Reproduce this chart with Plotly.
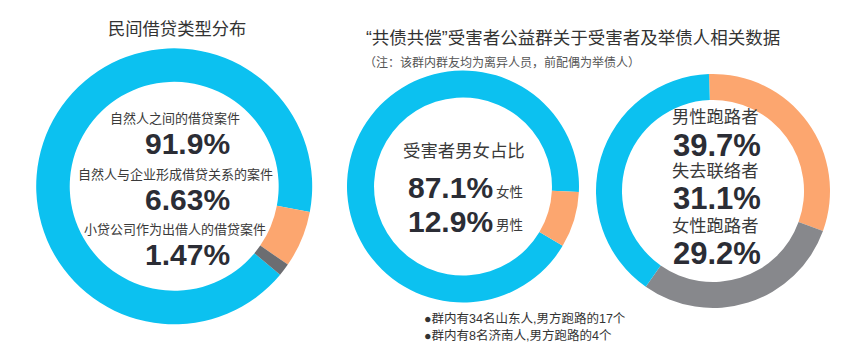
import plotly.graph_objects as go

W, H = 849, 362

# ---------------- data ----------------
loan_types = ["自然人之间的借贷案件", "自然人与企业形成借贷关系的案件", "小贷公司作为出借人的借贷案件"]
loan_pct = [91.9, 6.63, 1.47]
loan_labels = ["91.9%", "6.63%", "1.47%"]

gender_types = ["女性", "男性"]
gender_labels = ["87.1%", "12.9%"]
# ring shares as actually drawn in the picture (orange arc spans ~28 degrees)
gender_ring = [92.2, 7.8]

status_types = ["男性跑路者", "失去联络者", "女性跑路者"]
status_labels = ["39.7%", "31.1%", "29.2%"]
# ring order clockwise from 12 o'clock: 失去联络者 (orange), 女性跑路者 (gray), 男性跑路者 (blue)
ring3_types = ["失去联络者", "女性跑路者", "男性跑路者"]
ring3_pct = [31.1, 29.2, 39.7]

notes = ["●群内有34名山东人,男方跑路的17个", "●群内有8名济南人,男方跑路的4个"]

# ---------------- styles ----------------
BLUE = "#0cc1f0"
ORANGE = "#fca66f"
GRAY1 = "#6c6d71"
GRAY3 = "#87888c"
TXT = "#3a3a3a"
NUM = "#2b2d35"
CJK = "Liberation Sans, Noto Sans CJK SC, sans-serif"
CJK2 = "Noto Sans CJK SC, Liberation Sans, sans-serif"
NUMF = "Liberation Sans, Arial, sans-serif"


def dom(cx, cy, r):
    return dict(x=[(cx - r) / W, (cx + r) / W], y=[1 - (cy + r) / H, 1 - (cy - r) / H])


fig = go.Figure()

fig.add_trace(go.Pie(
    labels=loan_types, values=loan_pct, hole=0.757, sort=False, direction="clockwise",
    rotation=100.7 - 360 * loan_pct[0] / sum(loan_pct),
    marker=dict(colors=[BLUE, ORANGE, GRAY1], line=dict(width=0)),
    textinfo="none", showlegend=False, domain=dom(166.2, 178.3, 138)))

fig.add_trace(go.Pie(
    labels=gender_types, values=gender_ring, hole=0.767, sort=False, direction="clockwise",
    rotation=92.7 - 360 * gender_ring[0] / sum(gender_ring),
    marker=dict(colors=[BLUE, ORANGE], line=dict(width=0)),
    textinfo="none", showlegend=False, domain=dom(455, 178.5, 116)))

fig.add_trace(go.Pie(
    labels=ring3_types, values=ring3_pct, hole=0.778, sort=False, direction="clockwise",
    rotation=-2,
    marker=dict(colors=[ORANGE, GRAY3, BLUE], line=dict(width=0)),
    textinfo="none", showlegend=False, domain=dom(705, 183, 117)))

ann = []


def t(text, x, y, size, color=TXT, anchor="center", bold=False, family=CJK, align="center"):
    ann.append(dict(text=text, x=x / W, y=1 - y / H, xref="paper", yref="paper",
                    xanchor=anchor, yanchor="middle", showarrow=False, align=align,
                    font=dict(size=size, color=color, family=family,
                              weight="bold" if bold else "normal")))


# titles
t("民间借贷类型分布", 169, 21, 17.3, "#333333")
t("“共债共偿”受害者公益群关于受害者及举债人相关数据", 356, 30, 17.5, "#333333", anchor="left")
t("（注：该群内群友均为离异人员，前配偶为举债人）", 354, 53.3, 12, "#555555", anchor="left", family=CJK2)

# chart 1
ys_lab = [110.8, 166.7, 221.8]
ys_num = [135.8, 191.3, 246.7]
for i in range(3):
    t(loan_types[i], 167, ys_lab[i], 13)
    t(loan_labels[i], 179, ys_num[i], 30, NUM, bold=True, family=NUMF)

# chart 2
t("受害者男女占比", 456, 143, 17.4)
t(gender_labels[0], 487, 179.2, 30, NUM, anchor="right", bold=True, family=NUMF)
t(gender_types[0], 486, 184, 13.5, anchor="left")
t(gender_labels[1], 487, 213.3, 30, NUM, anchor="right", bold=True, family=NUMF)
t(gender_types[1], 486, 217, 13.5, anchor="left")

# chart 3
ys3_lab = [108.8, 163, 217.8]
ys3_num = [137.5, 190.8, 245.8]
for i in range(3):
    t(status_types[i], 662, ys3_lab[i], 17.3, anchor="left")
    t(status_labels[i], 663, ys3_num[i], 31, NUM, anchor="left", bold=True, family=NUMF)

# notes
t(notes[0], 414, 310.8, 12.5, "#333333", anchor="left")
t(notes[1], 414, 327.2, 12.5, "#333333", anchor="left")

fig.update_layout(width=W, height=H, margin=dict(l=0, r=0, t=0, b=0),
                  paper_bgcolor="white", plot_bgcolor="white", annotations=ann)

fig.write_html("out.html")
